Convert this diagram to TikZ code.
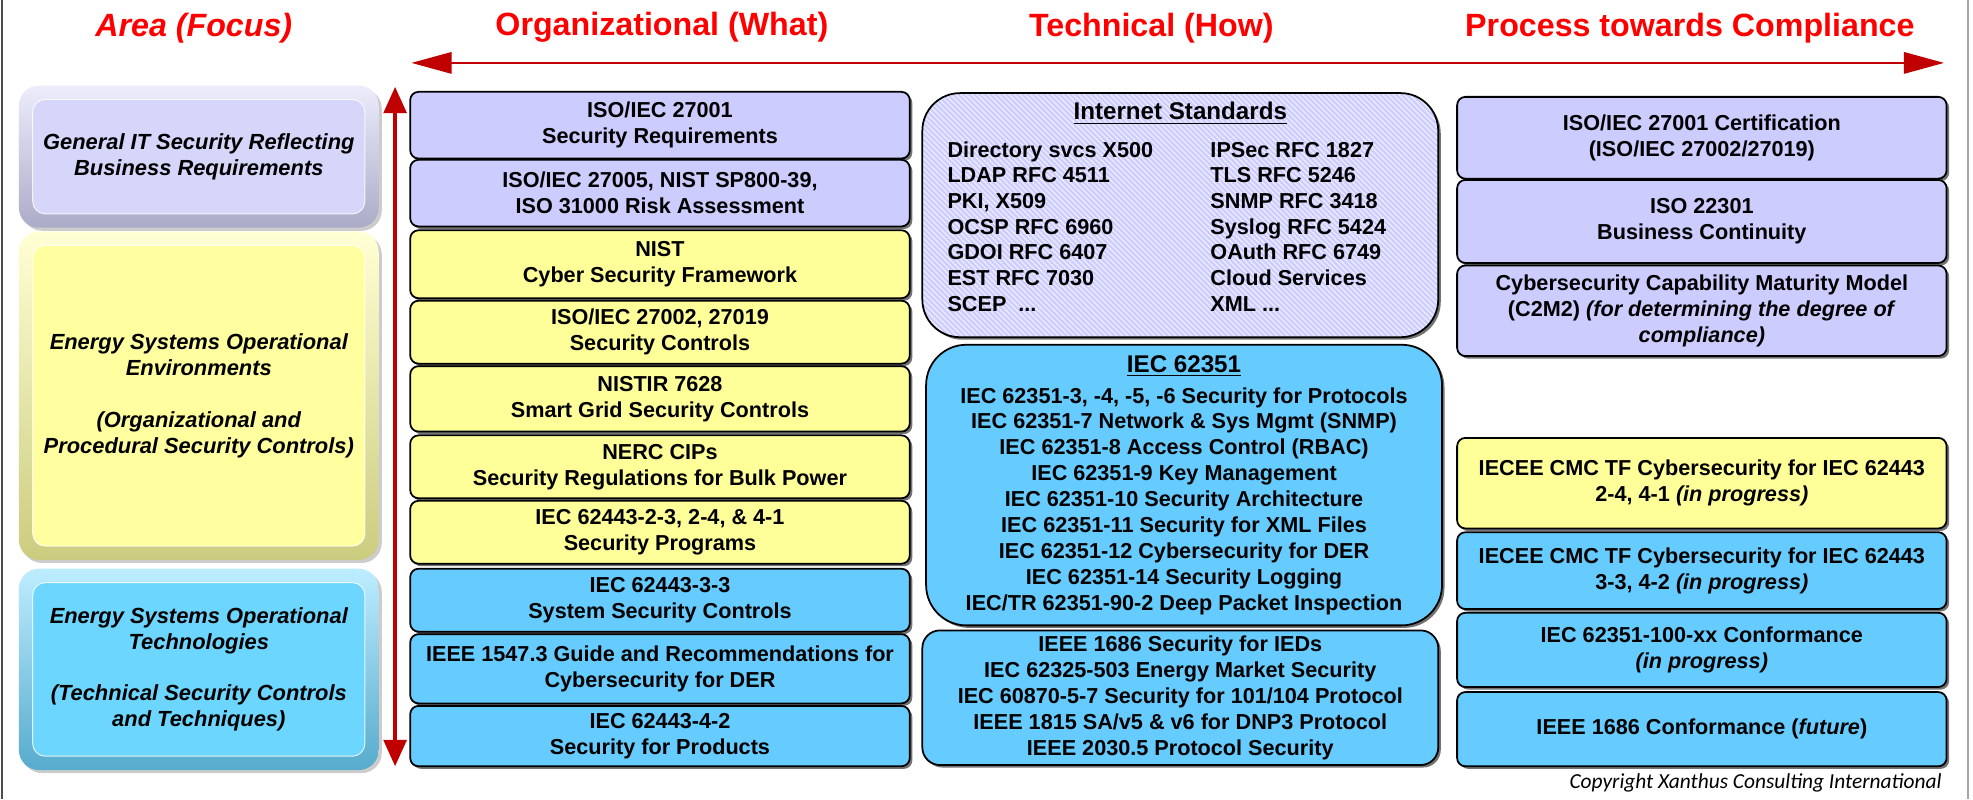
\documentclass[tikz,border=0pt]{standalone}
\usepackage{fontspec}
\setmainfont{Liberation Sans}
\newfontfamily\notefont{Carlito}
\usetikzlibrary{arrows.meta,shadows,patterns.meta}

\definecolor{lav}{HTML}{CCCCFF}
\definecolor{yel}{HTML}{FFFF99}
\definecolor{blu}{HTML}{66CCFF}
\definecolor{arealav}{HTML}{D6D6FA}
\definecolor{areayel}{HTML}{FFFFA0}
\definecolor{areablu}{HTML}{6DD6FF}
\definecolor{arrowred}{HTML}{C00000}
\definecolor{titlered}{HTML}{FF0000}
\definecolor{hatchline}{HTML}{ECECFF}

\newcommand\boxfont{\bfseries\fontsize{8.6}{10.3}\selectfont}
\newcommand\areafont{\bfseries\itshape\fontsize{8.7}{10.3}\selectfont}
\newcommand\grouphead[1]{{\fontsize{9.6}{11}\selectfont\underline{#1}}}

% a box given by its corners (x1,y1) (x2,y2)
\newcommand\placebox[7]{%
  \node[#1, minimum width={(#5-#3)*0.5pt}, minimum height={(#6-#4)*0.5pt}]
    (#2) at ({(#3+#5)/2},{(#4+#6)/2}) {#7};}

% bevelled panel of the focus column
\newcommand\areabox[5]{%
  \node[areaouter, top color=#1!45!white, bottom color=#1!80!black,
        minimum width=143pt, minimum height={(#4-#3)*0.5pt}]
    (#2o) at (158,{(#3+#4)/2}) {};
  \node[areainner, fill=#1, minimum width=132pt, minimum height={(#4-#3-22)*0.5pt}]
    (#2) at (158,{(#3+#4)/2}) {#5};}

\tikzset{
  every node/.style={inner sep=0pt, outer sep=0pt, align=center, font=\boxfont},
  stdbox/.style={draw=black, line width=0.7pt, rounded corners=3.3pt,
    drop shadow={shadow xshift=1pt, shadow yshift=-1pt, fill=black, opacity=0.55}},
  techbox/.style={stdbox, rounded corners=14pt},
  headtext/.style={text=titlered, font=\bfseries\fontsize{12.8}{15}\selectfont},
  areaouter/.style={rounded corners=8pt, shading angle=15,
    drop shadow={shadow xshift=1.2pt, shadow yshift=-1.2pt, fill=black, opacity=0.2}},
  areainner/.style={rounded corners=5pt, draw=white, draw opacity=0.8,
    line width=0.4pt, font=\areafont},
  harrow/.style={draw=arrowred, line width=0.9pt,
    {Triangle[length=16pt,width=8.5pt]}-{Triangle[length=16pt,width=8.5pt]}},
  varrow/.style={draw=arrowred, line width=1.6pt,
    {Triangle[length=10.5pt,width=9pt]}-{Triangle[length=10.5pt,width=9pt]}},
  framel/.style={draw=black!70, line width=1pt},
  framer/.style={draw=black!35, line width=0.8pt},
  itemcol/.style={anchor=west, align=left, font=\bfseries\fontsize{8.6}{10.2}\selectfont},
}

\begin{document}
\begin{tikzpicture}[x=0.5pt, y=-0.5pt]
\useasboundingbox (0,0) rectangle (1568,635);
\fill[white] (0,0) rectangle (1568,635);

% page frame
\coordinate (ftl) at (1.5,0);  \coordinate (fbl) at (1.5,635);
\coordinate (ftr) at (1564,0); \coordinate (fbr) at (1564,635);
\draw[framel] (ftl) -- (fbl);
\draw[framer] (ftr) -- (fbr);

% column headings
\node[headtext] (hArea) at (154,22) {\itshape Area (Focus)};
\node[headtext] (hOrg)  at (526,22) {Organizational (What)};
\node[headtext] (hTech) at (915,22) {Technical (How)};
\node[headtext] (hProc) at (1343,22) {Process towards Compliance};

% axes
\coordinate (hl) at (327,50);  \coordinate (hr) at (1545,50);
\draw[harrow] (hl) -- (hr);
\coordinate (vt) at (314,69);  \coordinate (vb) at (314,609);
\draw[varrow] (vt) -- (vb);

% focus areas
\areabox{arealav}{a1}{68}{181}{General IT Security Reflecting\\Business Requirements}
\areabox{areayel}{a2}{184}{445}{Energy Systems Operational\\Environments\\[10.3pt](Organizational and\\Procedural Security Controls)}
\areabox{areablu}{a3}{452}{612}{Energy Systems Operational\\Technologies\\[10.3pt](Technical Security Controls\\and Techniques)}

% organizational standards
\placebox{stdbox, fill=lav}{o1}{326}{73}{723}{126}{ISO/IEC 27001\\Security Requirements}
\placebox{stdbox, fill=lav}{o2}{326}{127}{723}{180}{ISO/IEC 27005, NIST SP800-39,\\ISO 31000 Risk Assessment}
\placebox{stdbox, fill=yel}{o3}{326}{183}{723}{237}{NIST\\Cyber Security Framework}
\placebox{stdbox, fill=yel}{o4}{326}{239}{723}{289}{ISO/IEC 27002, 27019\\Security Controls}
\placebox{stdbox, fill=yel}{o5}{326}{291}{723}{343}{NISTIR 7628\\Smart Grid Security Controls}
\placebox{stdbox, fill=yel}{o6}{326}{346}{723}{396}{NERC CIPs\\Security Regulations for Bulk Power}
\placebox{stdbox, fill=yel}{o7}{326}{398}{723}{448}{IEC 62443-2-3, 2-4, \& 4-1\\Security Programs}
\placebox{stdbox, fill=blu}{o8}{326}{452}{723}{502}{IEC 62443-3-3\\System Security Controls}
\placebox{stdbox, fill=blu}{o9}{326}{504}{723}{559}{IEEE 1547.3 Guide and Recommendations for\\Cybersecurity for DER}
\placebox{stdbox, fill=blu}{o10}{326}{561}{723}{609}{IEC 62443-4-2\\Security for Products}

% technical standards
\placebox{techbox, rounded corners=15pt, preaction={fill=lav},
  pattern={Lines[angle=-45,distance=1.5pt,line width=0.55pt]}, pattern color=hatchline}
  {t1}{733}{74}{1143}{268}{}
\node (t1head) at (938,90) {\grouphead{Internet Standards}};
\node[itemcol] (t1left) at (753,180) {Directory svcs X500\\LDAP RFC 4511\\PKI, X509\\OCSP RFC 6960\\GDOI RFC 6407\\EST RFC 7030\\SCEP\ \ ...};
\node[itemcol] (t1right) at (962,180) {IPSec RFC 1827\\TLS RFC 5246\\SNMP RFC 3418\\Syslog RFC 5424\\OAuth RFC 6749\\Cloud Services\\XML ...};

\placebox{techbox, rounded corners=16pt, fill=blu}{t2}{736}{274}{1146}{497}{\grouphead{IEC 62351}\\[2pt]IEC 62351-3, -4, -5, -6 Security for Protocols\\IEC 62351-7 Network \& Sys Mgmt (SNMP)\\IEC 62351-8 Access Control (RBAC)\\IEC 62351-9 Key Management\\IEC 62351-10 Security Architecture\\IEC 62351-11 Security for XML Files\\IEC 62351-12 Cybersecurity for DER\\IEC 62351-14 Security Logging\\IEC/TR 62351-90-2 Deep Packet Inspection}
\placebox{techbox, rounded corners=7pt, fill=blu}{t3}{733}{501}{1143}{608}{IEEE 1686 Security for IEDs\\IEC 62325-503 Energy Market Security\\IEC 60870-5-7 Security for 101/104 Protocol\\IEEE 1815 SA/v5 \& v6 for DNP3 Protocol\\IEEE 2030.5 Protocol Security}

% compliance
\placebox{stdbox, fill=lav}{c1}{1158}{77}{1547}{142}{ISO/IEC 27001 Certification\\(ISO/IEC 27002/27019)}
\placebox{stdbox, fill=lav}{c2}{1158}{143}{1547}{209}{ISO 22301\\Business Continuity}
\placebox{stdbox, fill=lav}{c3}{1158}{211}{1547}{283}{Cybersecurity Capability Maturity Model\\(C2M2) \textit{(for determining the degree of}\\\textit{compliance)}}
\placebox{stdbox, fill=yel}{c4}{1158}{348}{1547}{420}{IECEE CMC TF Cybersecurity for IEC 62443\\2-4, 4-1 \textit{(in progress)}}
\placebox{stdbox, fill=blu}{c5}{1158}{423}{1547}{484}{IECEE CMC TF Cybersecurity for IEC 62443\\3-3, 4-2 \textit{(in progress)}}
\placebox{stdbox, fill=blu}{c6}{1158}{487}{1547}{546}{IEC 62351-100-xx Conformance\\\textit{(in progress)}}
\placebox{stdbox, fill=blu}{c7}{1158}{550}{1547}{609}{IEEE 1686 Conformance (\textit{future})}

\node[anchor=east, font={\notefont\itshape\fontsize{8.5}{10}\selectfont}] (copy) at (1543,622) {Copyright Xanthus Consulting International};
\end{tikzpicture}
\end{document}
